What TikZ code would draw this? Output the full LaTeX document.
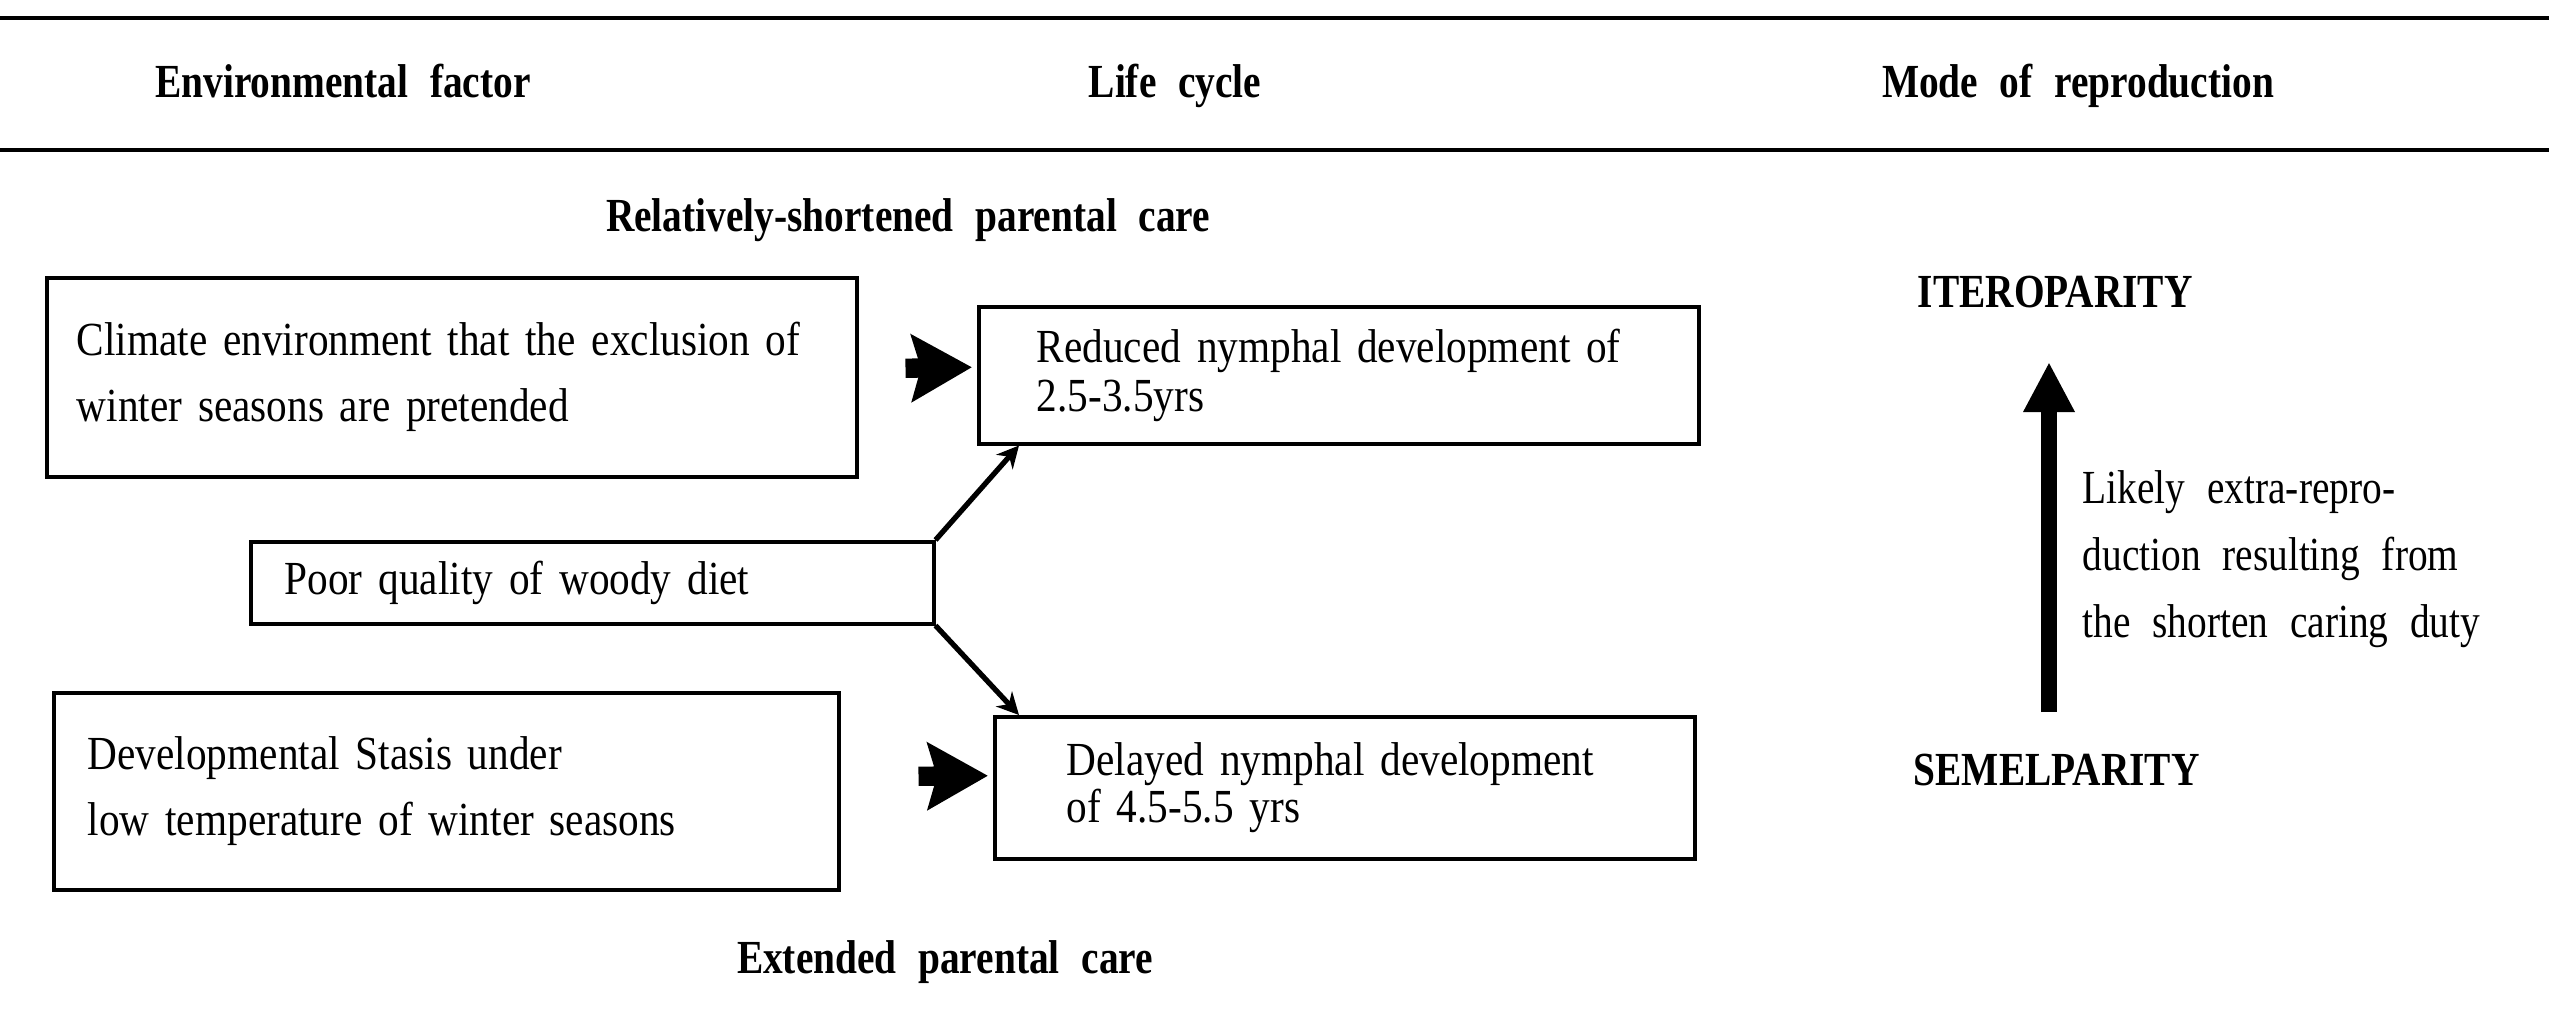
\documentclass[tikz,border=0pt]{standalone}
\usepackage{fontspec}
\setmainfont{Liberation Serif}[FakeStretch=0.87, WordSpace=2.2, BoldFeatures={FakeStretch=0.83}]
\newfontfamily\notefont{Liberation Serif}[FakeStretch=0.83, WordSpace=2.2]
\usepackage{xcolor}
\usetikzlibrary{arrows.meta}
\definecolor{ink}{HTML}{000000}
\tikzset{
  rule/.style={draw=ink, line width=1.2pt},
  box/.style={draw=ink, line width=1pt, anchor=north west, align=left, inner ysep=0pt,
    font=\fontsize{13.5}{18.8}\selectfont},
  tight/.style={font=\fontsize{13.5}{14}\selectfont},
  head/.style={anchor=base, inner sep=0pt, font=\bfseries\fontsize{13.5}{16}\selectfont},
  note/.style={anchor=west, inner sep=0pt, align=left, font=\notefont\fontsize{13.5}{19}\selectfont},
  fat/.style={draw=ink, line width=5.5pt, -{Stealth[length=6mm, width=6.6mm, inset=0.9mm]}},
  diag/.style={draw=ink, line width=1.5pt, -{Stealth[length=2.2mm, width=2.2mm]}},
  uparr/.style={draw=ink, line width=4.8pt, -{Triangle[length=5mm, width=4.8mm]}},
}

\begin{document}
\begin{tikzpicture}[x=0.1mm, y=-0.1mm]
  \useasboundingbox (0,0) rectangle (2549,1012);

  % table rules and headings
  \draw[rule] (0,18) -- (2549,18);
  \draw[rule, line width=1.4pt] (0,150) -- (2549,150);
  \node[head] (envh) at (343,97) {Environmental factor};
  \node[head] (lifeh) at (1175,97) {Life cycle};
  \node[head] (modeh) at (2078,97) {Mode of reproduction};

  \node[head] (short) at (908,231) {Relatively-shortened parental care};
  \node[head] (ext) at (945,973) {Extended parental care};

  % boxes
  \node[box, text width=75mm, inner xsep=3mm, minimum height=19.9mm] (clim) at (45,276)
    {Climate environment that the exclusion of\\winter seasons are pretended};
  \node[box, tight, text width=60.4mm, inner xsep=5.8mm, minimum height=13.7mm] (red) at (977,305)
    {Reduced nymphal development of\\2.5-3.5yrs};
  \node[box, text width=61.5mm, inner xsep=3.4mm, minimum height=8.2mm] (poor) at (249,540)
    {Poor quality of woody diet};
  \node[box, text width=71.7mm, inner xsep=3.4mm, minimum height=19.7mm] (dev) at (52,691)
    {Developmental Stasis under\\low temperature of winter seasons};
  \node[box, text width=55.6mm, inner xsep=7.2mm, minimum height=14.2mm,
    font=\fontsize{13.5}{11.8}\selectfont] (del) at (993,715)
    {Delayed nymphal development\\of 4.5-5.5 yrs};

  \draw[fat] ([shift={(47,-9)}]clim.east) -- ([shift={(-5,-8)}]red.west);
  \draw[fat] ([shift={(78,-15)}]dev.east) -- ([shift={(-5,-12)}]del.west);
  \draw[diag] (poor.north east) -- ([xshift=4.2mm]red.south west);
  \draw[diag] (poor.south east) -- ([xshift=2.6mm]del.north west);

  % mode of reproduction
  \node[head, anchor=base west] (iter) at (1917,307) {ITEROPARITY};
  \node[head, anchor=base west] (semel) at (1913,785) {SEMELPARITY};
  \coordinate (ubot) at (2049,712);
  \coordinate (utop) at (2049,362);
  \draw[uparr] (ubot) -- (utop);
  \node[note] (likely) at (2082,559)
    {Likely extra-repro-\\duction resulting from\\the shorten caring duty};
\end{tikzpicture}
\end{document}
